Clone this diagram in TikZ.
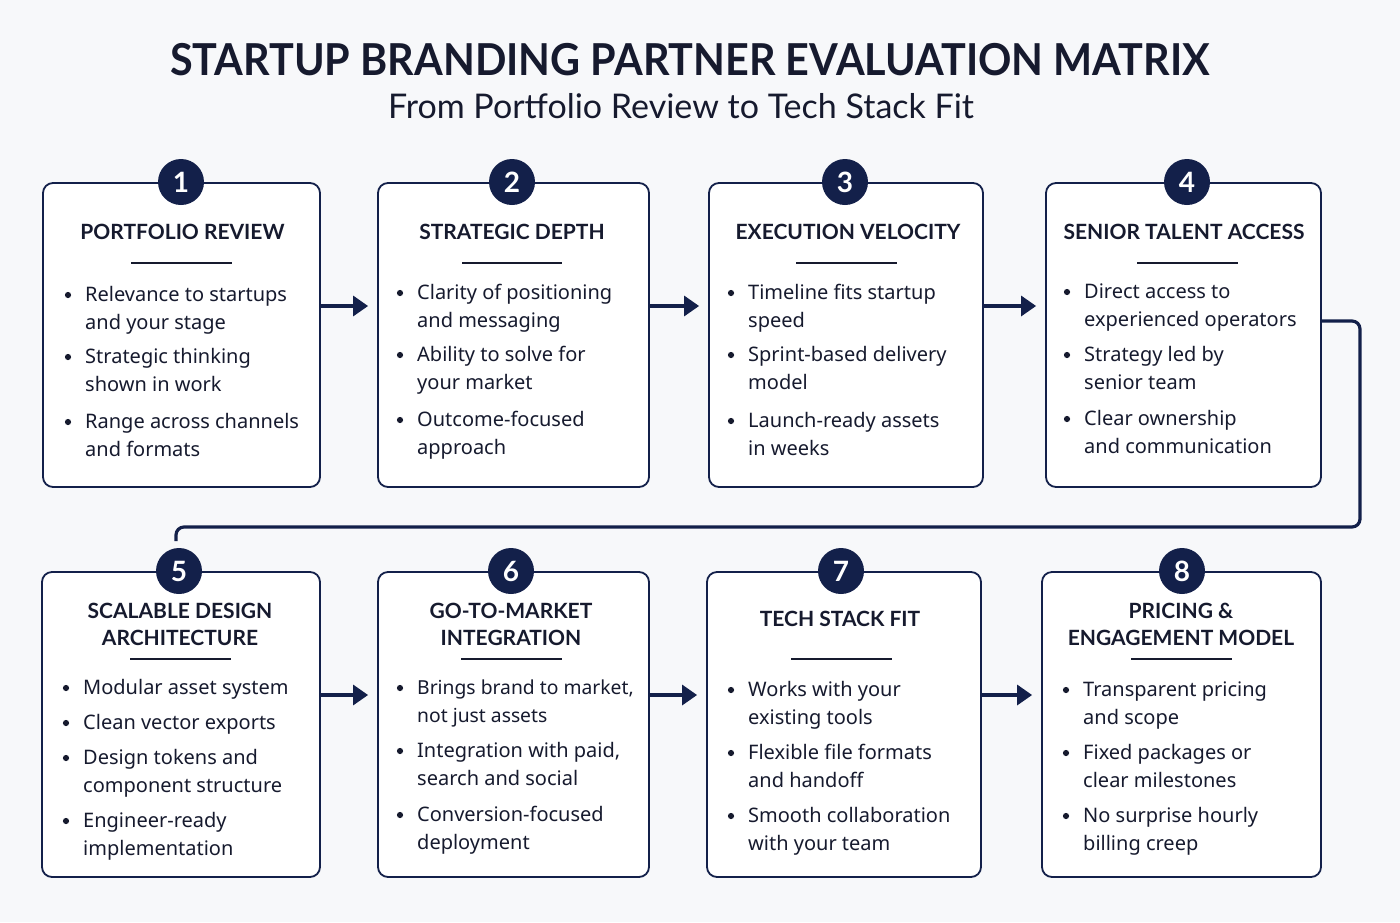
\documentclass[tikz,border=0pt]{standalone}
\usepackage{fontspec}
\setmainfont{Noto Sans}
\newfontfamily\titlefont{Lato}
\usetikzlibrary{arrows.meta}
\definecolor{navy}{HTML}{13204A}
\definecolor{ink}{HTML}{161A2E}
\definecolor{bg}{HTML}{F7F8FA}
\tikzset{
  card/.style={draw=navy, line width=1.8pt, rounded corners=10pt, fill=white, inner sep=0pt},
  badge/.style={circle, fill=navy, minimum size=46pt, inner sep=0pt, text=white,
    font=\titlefont\bfseries\fontsize{28}{28}\selectfont},
  head/.style={font=\titlefont\bfseries\fontsize{21}{27}\selectfont, text=ink, align=center, inner sep=0pt},
  item/.style={font=\fontsize{20}{28}\selectfont, text=ink, anchor=base west, inner sep=0pt},
  rule/.style={draw=ink, line width=2pt},
  flow/.style={draw=navy, line width=3.2pt, -{Triangle[length=15pt,width=20pt]}, shorten >=9pt},
  link/.style={draw=navy, line width=3.2pt, rounded corners=8pt},
  dot/.style={fill=ink}
}
\newcommand\bitem[4]{%
  \fill[dot] (#2,#3) circle (3.1pt);
  \node[item] (#1) at (#2+17,#3+6) {\begin{tabular}[t]{@{}l@{}}#4\end{tabular}};}
\begin{document}
\begin{tikzpicture}[x=1pt,y=-1pt]
\fill[bg] (0,0) rectangle (1400,922);
\useasboundingbox (0,0) rectangle (1400,922);

\node[font=\titlefont\bfseries\fontsize{44}{44}\selectfont, text=ink] (title) at (690,60)
  {\scalebox{0.94}[1]{STARTUP BRANDING PARTNER EVALUATION MATRIX}};
\node[font=\titlefont\fontsize{34}{34}\selectfont, text=ink] (subtitle) at (681,106)
  {From Portfolio Review to Tech Stack Fit};

% cards row 1
\node[card, minimum width=277pt, minimum height=304pt] (card1) at (181.5,335) {};
\node[card, minimum width=271pt, minimum height=304pt] (card2) at (513.5,335) {};
\node[card, minimum width=274pt, minimum height=304pt] (card3) at (846,335) {};
\node[card, minimum width=275pt, minimum height=304pt] (card4) at (1183.5,335) {};
% cards row 2
\node[card, minimum width=278pt, minimum height=305pt] (card5) at (181,724.5) {};
\node[card, minimum width=271pt, minimum height=305pt] (card6) at (513.5,724.5) {};
\node[card, minimum width=274pt, minimum height=305pt] (card7) at (844,724.5) {};
\node[card, minimum width=279pt, minimum height=305pt] (card8) at (1181.5,724.5) {};

% connectors
\draw[flow] ([yshift=29pt]card1.east) -- ([yshift=29pt]card2.west);
\draw[flow] ([yshift=29pt]card2.east) -- ([yshift=29pt]card3.west);
\draw[flow] ([yshift=29pt]card3.east) -- ([yshift=29pt]card4.west);
\draw[flow] ([yshift=29.5pt]card5.east) -- ([yshift=29.5pt]card6.west);
\draw[flow] ([yshift=29.5pt]card6.east) -- ([yshift=29.5pt]card7.west);
\draw[flow] ([yshift=29.5pt]card7.east) -- ([yshift=29.5pt]card8.west);
\coordinate (end5) at (176,541);
\draw[link] ([yshift=14pt]card4.east) -- (1360,321) -- (1360,527) -- (176,527) -- (end5);

% badges
\node[badge] (b1) at (181,182) {1};
\node[badge] (b2) at (512,182) {2};
\node[badge] (b3) at (845,182) {3};
\node[badge] (b4) at (1187,182) {4};
\node[badge] (b5) at (179,571) {5};
\node[badge] (b6) at (511,571) {6};
\node[badge] (b7) at (841,571) {7};
\node[badge] (b8) at (1182,571) {8};

% headings
\node[head] (h1) at (182.5,232) {PORTFOLIO REVIEW};
\node[head] (h2) at (512,232) {STRATEGIC DEPTH};
\node[head] (h3) at (848,232) {EXECUTION VELOCITY};
\node[head] (h4) at (1184,232) {SENIOR TALENT ACCESS};
\node[head] (h5) at (180,624.5) {SCALABLE DESIGN\\ARCHITECTURE};
\node[head] (h6) at (511,624.5) {GO-TO-MARKET\\INTEGRATION};
\node[head] (h7) at (840,619) {TECH STACK FIT};
\node[head] (h8) at (1181,624.5) {PRICING \&\\ENGAGEMENT MODEL};

\draw[rule] (131,263) -- (232,263);
\draw[rule] (462,263) -- (562,263);
\draw[rule] (796,263) -- (897,263);
\draw[rule] (1137,263) -- (1238,263);
\draw[rule] (130,659) -- (231,659);
\draw[rule] (461,659) -- (562,659);
\draw[rule] (791,659) -- (892,659);
\draw[rule] (1131,659) -- (1232,659);

% items
\bitem{i11}{68}{295}{Relevance to startups\\and your stage}
\bitem{i12}{68}{357}{Strategic thinking\\shown in work}
\bitem{i13}{68}{422}{Range across channels\\and formats}

\bitem{i21}{400}{293}{Clarity of positioning\\and messaging}
\bitem{i22}{400}{355}{Ability to solve for\\your market}
\bitem{i23}{400}{420}{Outcome-focused\\approach}

\bitem{i31}{731}{293}{Timeline fits startup\\speed}
\bitem{i32}{731}{355}{Sprint-based delivery\\model}
\bitem{i33}{731}{421}{Launch-ready assets\\in weeks}

\bitem{i41}{1067}{292}{Direct access to\\experienced operators}
\bitem{i42}{1067}{355}{Strategy led by\\senior team}
\bitem{i43}{1067}{419}{Clear ownership\\and communication}

\bitem{i51}{66}{688}{Modular asset system}
\bitem{i52}{66}{723}{Clean vector exports}
\bitem{i53}{66}{758}{Design tokens and\\component structure}
\bitem{i54}{66}{821}{Engineer-ready\\implementation}

\bitem{i61}{400}{688}{\fontsize{19.3}{28}\selectfont Brings brand to market,\\\fontsize{19.3}{28}\selectfont not just assets}
\bitem{i62}{400}{751}{Integration with paid,\\search and social}
\bitem{i63}{400}{815}{Conversion-focused\\deployment}

\bitem{i71}{731}{690}{Works with your\\existing tools}
\bitem{i72}{731}{753}{Flexible file formats\\and handoff}
\bitem{i73}{731}{816}{Smooth collaboration\\with your team}

\bitem{i81}{1066}{690}{Transparent pricing\\and scope}
\bitem{i82}{1066}{753}{Fixed packages or\\clear milestones}
\bitem{i83}{1066}{816}{No surprise hourly\\billing creep}
\end{tikzpicture}
\end{document}
